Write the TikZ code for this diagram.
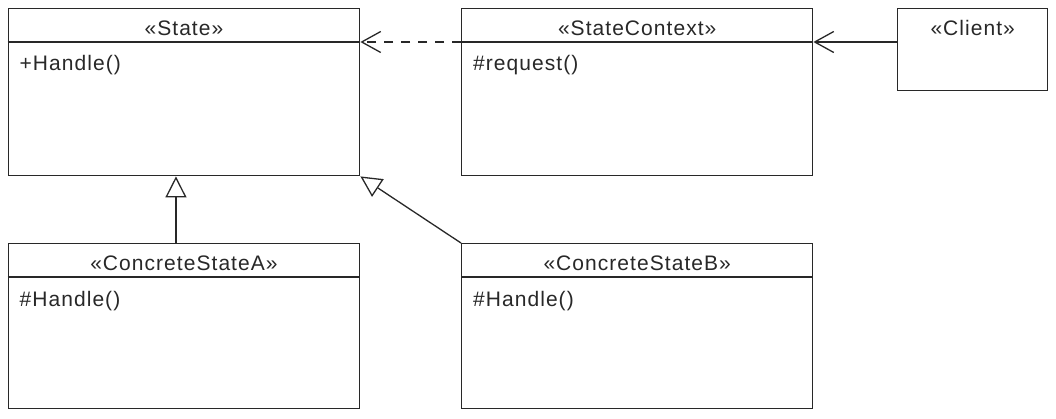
\documentclass[tikz,border=0pt]{standalone}
\usepackage{fontspec}
\setmainfont{Liberation Sans}[LetterSpace=5]
\usetikzlibrary{arrows.meta}
\definecolor{ink}{RGB}{40,40,40}
\begin{document}
\begin{tikzpicture}[x=1pt,y=-1pt,
  umlbox/.style={draw=ink, line width=1.4pt, rectangle, inner sep=0pt, anchor=north west, fill=white},
  divider/.style={draw=ink, line width=1.4pt},
  ttl/.style={anchor=base, inner sep=0pt, text=ink, font=\fontsize{21pt}{25pt}\selectfont},
  member/.style={anchor=base west, inner sep=0pt, text=ink, font=\fontsize{21pt}{25pt}\selectfont},
  depend/.style={draw=ink, line width=1.3pt, dash pattern=on 9pt off 8pt, -{Straight Barb[length=19pt,width=21pt,line width=1.3pt]}},
  assoc/.style={draw=ink, line width=1.3pt, -{Straight Barb[length=19pt,width=21pt,line width=1.3pt]}},
  inherit/.style={draw=ink, line width=1.3pt, -{Triangle[open, fill=white, length=21pt, width=21pt, line width=1.3pt]}}
]
\useasboundingbox[fill=white] (0,0) rectangle (1056,419);

% boxes
\node[umlbox, minimum width=351.5pt, minimum height=167pt] (state) at (7.5,8) {};
\node[umlbox, minimum width=351pt, minimum height=167pt] (ctx) at (461,8) {};
\node[umlbox, minimum width=150pt, minimum height=82pt] (client) at (897,8) {};
\node[umlbox, minimum width=351.5pt, minimum height=165pt] (csa) at (7.5,243) {};
\node[umlbox, minimum width=351pt, minimum height=165pt] (csb) at (461,243) {};

% header dividers
\draw[divider] ([yshift=-34pt]state.north west) -- ([yshift=-34pt]state.north east);
\draw[divider] ([yshift=-34pt]ctx.north west) -- ([yshift=-34pt]ctx.north east);
\draw[divider] ([yshift=-34pt]csa.north west) -- ([yshift=-34pt]csa.north east);
\draw[divider] ([yshift=-34pt]csb.north west) -- ([yshift=-34pt]csb.north east);

% titles
\node[ttl] (stateT) at ([yshift=-28pt]state.north) {«State»};
\node[ttl] (ctxT) at ([yshift=-28pt]ctx.north) {«StateContext»};
\node[ttl] (clientT) at ([yshift=-28pt]client.north) {«Client»};
\node[ttl] (csaT) at ([yshift=-28pt]csa.north) {«ConcreteStateA»};
\node[ttl] (csbT) at ([yshift=-28pt]csb.north) {«ConcreteStateB»};

% members
\node[member] (stateM) at ([xshift=12pt,yshift=-63pt]state.north west) {+Handle()};
\node[member] (ctxM) at ([xshift=12pt,yshift=-63pt]ctx.north west) {\#request()};
\node[member] (csaM) at ([xshift=12pt,yshift=-63pt]csa.north west) {\#Handle()};
\node[member] (csbM) at ([xshift=12pt,yshift=-63pt]csb.north west) {\#Handle()};

% connectors
\draw[depend] ([yshift=-34pt]ctx.north west) -- ([yshift=-34pt]state.north east);
\draw[assoc] ([yshift=-34pt]client.north west) -- ([yshift=-34pt]ctx.north east);
\draw[inherit] ([xshift=-8pt]csa.north) -- ([xshift=-8pt]state.south);
\draw[inherit] (csb.north west) -- (state.south east);
\end{tikzpicture}
\end{document}
